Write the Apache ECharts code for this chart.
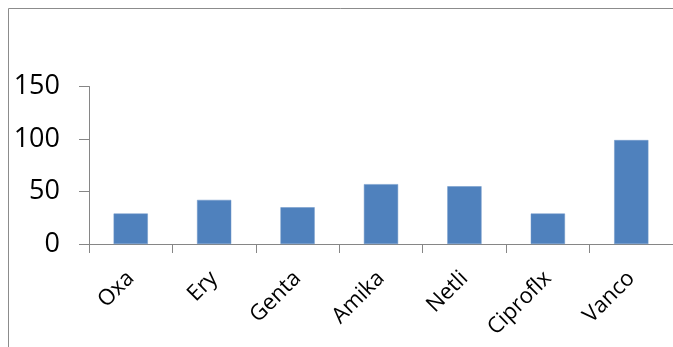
<!DOCTYPE html>
<html>
<head>
<meta charset="utf-8">
<script src="https://cdn.jsdelivr.net/npm/echarts@6/dist/echarts.min.js"></script>
<style>
  html, body { margin: 0; padding: 0; background: #fff; overflow: hidden; }
  #chart { width: 673px; height: 347px; }
</style>
</head>
<body>
<div id="chart"></div>
<script>
// Antibiotic categories and their measured values
const categories = ['Oxa', 'Ery', 'Genta', 'Amika', 'Netli', 'Ciproflx', 'Vanco'];
const values = [29, 42, 35, 57, 55, 29, 99];
const yTicks = [0, 50, 100, 150];

const axisGray = '#868686';
const frameGray = '#8c8c8c';
const chart = echarts.init(document.getElementById('chart'), null, { renderer: 'canvas' });

chart.setOption({
  animation: false,
  backgroundColor: '#ffffff',
  // plot area runs past the right edge of the canvas
  grid: { left: 89, top: 86.5, height: 157.5, width: 591.5, containLabel: false },
  graphic: [
    { type: 'line', shape: { x1: 8.5, y1: 8.5, x2: 673, y2: 8.5 }, style: { stroke: frameGray, lineWidth: 1 }, silent: true },
    { type: 'line', shape: { x1: 8.5, y1: 8.5, x2: 8.5, y2: 347 }, style: { stroke: frameGray, lineWidth: 1 }, silent: true }
  ],
  xAxis: {
    type: 'category',
    data: categories,
    boundaryGap: true,
    axisLine: { lineStyle: { color: axisGray, width: 1 } },
    axisTick: { show: true, length: 9, inside: false, lineStyle: { color: axisGray } },
    axisLabel: {
      rotate: 45,
      margin: 31,
      interval: 0,
      fontFamily: 'Open Sans',
      fontSize: 22,
      color: '#000'
    },
    splitLine: { show: false }
  },
  yAxis: {
    type: 'value',
    min: yTicks[0],
    max: yTicks[yTicks.length - 1],
    interval: yTicks[1] - yTicks[0],
    axisLine: { show: true, lineStyle: { color: axisGray, width: 1 } },
    axisTick: { show: true, length: 10, lineStyle: { color: axisGray } },
    axisLabel: {
      margin: 29,
      fontFamily: 'Open Sans',
      fontSize: 27,
      color: '#000'
    },
    splitLine: { show: false }
  },
  series: [{
    type: 'bar',
    data: values,
    barWidth: '41%',
    itemStyle: { color: '#4F81BD', borderColor: '#6f97c9', borderWidth: 0.5 }
  }]
});
</script>
</body>
</html>
